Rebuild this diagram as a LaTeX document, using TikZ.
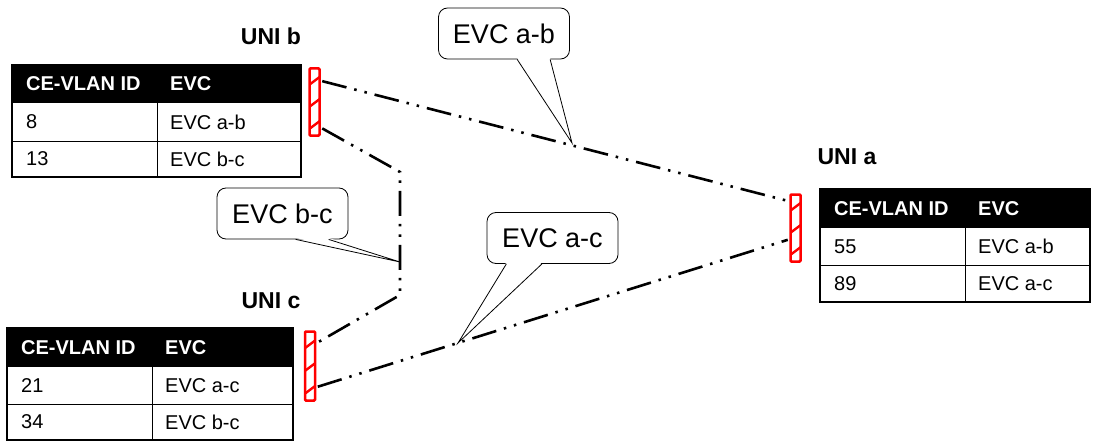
\documentclass[tikz,border=0pt]{standalone}
\usepackage{fontspec}
\setmainfont{Liberation Sans}
\usetikzlibrary{calc}
\tikzset{
 evcline/.style={line width=2.6pt, dash pattern=on 25pt off 8pt on 2.5pt off 8pt on 2.5pt off 8pt},
 callout/.style={draw, line width=0.8pt, rounded corners=9pt, fill=white, minimum width=131pt, minimum height=51pt, font=\fontsize{27}{30}\selectfont, inner sep=0pt},
 pointer/.style={line width=0.8pt},
 unilabel/.style={font=\bfseries\fontsize{23}{26}\selectfont, inner sep=0pt},
 hdr/.style={text=white, font=\bfseries\fontsize{20}{23}\selectfont, anchor=west, inner sep=0pt},
 cell/.style={font=\fontsize{20}{23}\selectfont, anchor=west, inner sep=0pt},
 frame/.style={line width=2.5pt},
 rowline/.style={line width=0.9pt},
 port/.style={draw=red, line width=2.5pt, fill=white, minimum width=10pt, inner sep=0pt, rounded corners=1pt,
   path picture={\foreach \f in {0.1,0.43,0.76}{\draw[red,line width=2.4pt] ($(path picture bounding box.south west)!\f!(path picture bounding box.north west)$) -- ++(12pt,9pt);}}},
}
\begin{document}
\begin{tikzpicture}[x=1pt,y=-1pt]
\useasboundingbox (0,0) rectangle (1102,441);
% ---- table b
\fill (12,65) rectangle (301,103);
\draw[rowline] (12,141) -- (301,141);
\draw[rowline] (157,103) -- (157,177);
\draw[frame] (12,65) rectangle (301,177);
\node[hdr] (bh1) at (26,84) {CE-VLAN ID};
\node[hdr] (bh2) at (170,84) {EVC};
\node[cell] (b11) at (26,122) {8};
\node[cell] (b12) at (170,122) {EVC a-b};
\node[cell] (b21) at (26,159) {13};
\node[cell] (b22) at (170,159) {EVC b-c};
\node[unilabel] (unib) at (271,36) {UNI b};
% ---- table c
\fill (7,328) rectangle (293,367);
\draw[rowline] (7,404) -- (293,404);
\draw[rowline] (152,367) -- (152,440);
\draw[frame] (7,328) rectangle (293,440);
\node[hdr] (ch1) at (21,347.5) {CE-VLAN ID};
\node[hdr] (ch2) at (165,347.5) {EVC};
\node[cell] (c11) at (21,385.5) {21};
\node[cell] (c12) at (165,385.5) {EVC a-c};
\node[cell] (c21) at (21,422) {34};
\node[cell] (c22) at (165,422) {EVC b-c};
\node[unilabel] (unic) at (271,301) {UNI c};
% ---- table a
\fill (820,189) rectangle (1090,228);
\draw[rowline] (820,265) -- (1090,265);
\draw[rowline] (965,228) -- (965,302);
\draw[frame] (820,189) rectangle (1090,302);
\node[hdr] (ah1) at (834,208.5) {CE-VLAN ID};
\node[hdr] (ah2) at (978,208.5) {EVC};
\node[cell] (a11) at (834,246.5) {55};
\node[cell] (a12) at (978,246.5) {EVC a-b};
\node[cell] (a21) at (834,283.5) {89};
\node[cell] (a22) at (978,283.5) {EVC a-c};
\node[unilabel] (unia) at (847,157) {UNI a};
% ---- ports
\node[port, minimum height=67pt] (portb) at (314.5,102) {};
\node[port, minimum height=67pt] (porta) at (795.5,228) {};
\node[port, minimum height=69pt] (portc) at (310,366) {};
% ---- callouts
\node[callout] (cab) at (504,33.5) {EVC a-b};
\coordinate (tipab) at (572,143);
\fill[white] ($(cab.south west)!0.6!(cab.south east)+(0pt,1.5pt)$) -- (tipab) -- ($(cab.south west)!0.85!(cab.south east)+(0pt,1.5pt)$) -- cycle;
\draw[pointer] ($(cab.south west)!0.6!(cab.south east)$) -- (tipab) -- ($(cab.south west)!0.85!(cab.south east)$);
\node[callout] (cbc) at (282.5,213.5) {EVC b-c};
\coordinate (tipbc) at (400,262);
\fill[white] ($(cbc.south west)!0.6!(cbc.south east)+(0pt,1.5pt)$) -- (tipbc) -- ($(cbc.south west)!0.85!(cbc.south east)+(0pt,1.5pt)$) -- cycle;
\draw[pointer] ($(cbc.south west)!0.6!(cbc.south east)$) -- (tipbc) -- ($(cbc.south west)!0.85!(cbc.south east)$);
\node[callout] (cac) at (552.5,238) {EVC a-c};
\coordinate (tipac) at (458,343);
\fill[white] ($(cac.south west)!0.15!(cac.south east)+(0pt,1.5pt)$) -- (tipac) -- ($(cac.south west)!0.42!(cac.south east)+(0pt,1.5pt)$) -- cycle;
\draw[pointer] ($(cac.south west)!0.15!(cac.south east)$) -- (tipac) -- ($(cac.south west)!0.42!(cac.south east)$);
% ---- connectors
\coordinate (bend1) at (400,172);
\coordinate (bend2) at (400,295);
\draw[evcline] ($(portb.north east)!0.2!(portb.south east)+(1.5pt,0pt)$) -- ($(porta.north west)!0.11!(porta.south west)+(-1.5pt,0pt)$);
\draw[evcline] ($(portb.north east)!0.88!(portb.south east)+(1.5pt,0pt)$) -- (bend1) -- (bend2) -- ($(portc.north east)!0.17!(portc.south east)+(1.5pt,0pt)$);
\draw[evcline] ($(portc.north east)!0.79!(portc.south east)+(1.5pt,0pt)$) -- ($(porta.north west)!0.67!(porta.south west)+(-1.5pt,0pt)$);
\end{tikzpicture}
\end{document}
